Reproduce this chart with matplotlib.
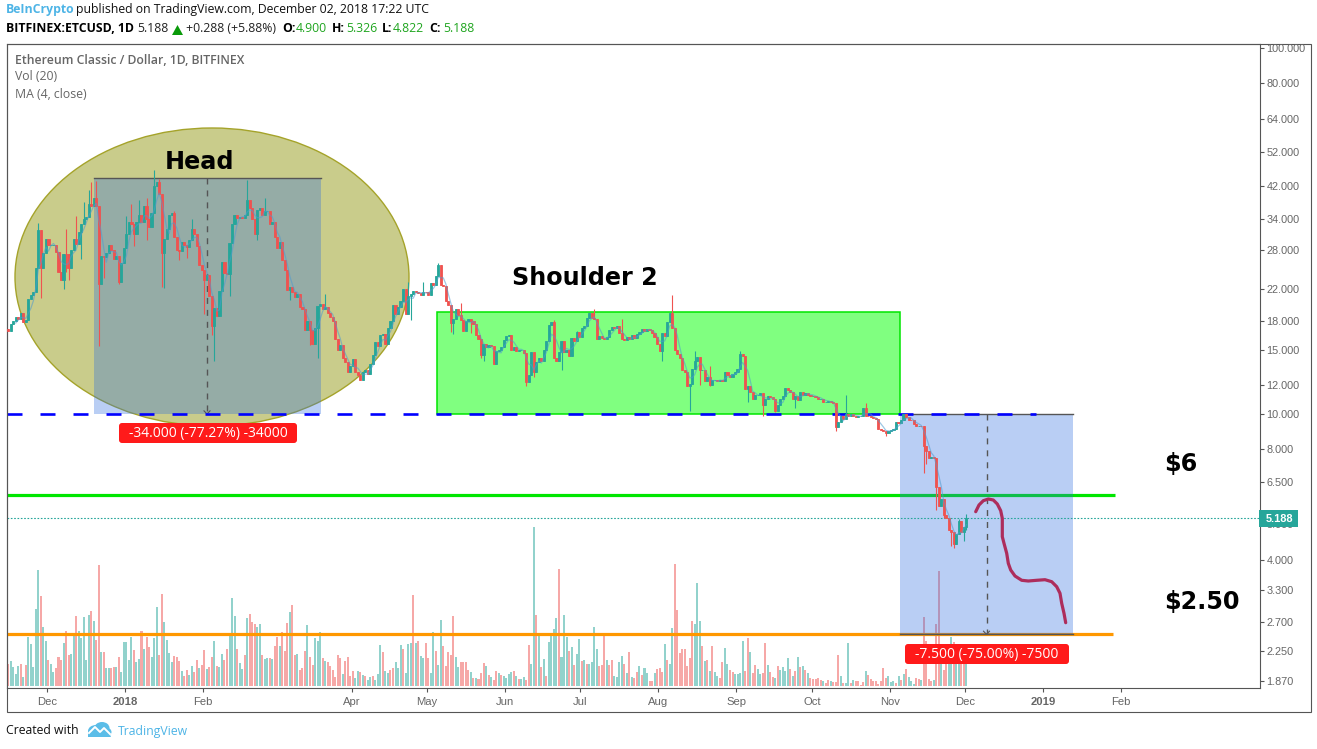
import numpy as np
import pandas as pd
import matplotlib
matplotlib.use("Agg")
import matplotlib.pyplot as plt
from matplotlib.patches import Ellipse, Rectangle, FancyBboxPatch, Polygon
from matplotlib.transforms import Affine2D
from matplotlib.ticker import NullLocator, FixedLocator, FixedFormatter

plt.rcParams["lines.scale_dashes"] = False

# ---------- daily closes by month ----------
closes_nov17 = [16.9,17.6,18.0,18.4,18.2,18.9,17.8,18.1,20.6,21.2,21.6,25.0,31.8,25.0,27.5]
closes_dec17 = [30,28.9,29,29,27.7,24.5,23.3,27.4,27.3,25,28,30,29.2,31.5,33,34,34.5,37.5,37,39,37,22.6,27,26.8,27.5,29,28,26.5,27,22.9,25.8]
closes_jan18 = [28.5,31,33.5,33,31,33.5,35,33.5,37,34,32.4,35.5,42,43,40,27.5,30,32,35,35.5,30.5,28,27.8,29.5,29,28.6,29.8,32,31,28.7,25.5]
closes_feb18 = [24.8,23.2,24,21,17.4,19.5,18.5,21.7,26,24.3,24.2,29.3,33,35,34.3,34.6,34.4,35,38.4,36.6,34,31,36,36.5,35,35.8,35.9,33]
closes_mar18 = [33.5,30.4,28.5,29.5,26.3,24.8,21.8,22.2,21.5,20.9,21.3,19.6,19.3,17,18,17,15.5,17.2,19.7,20,19.3,19.6,18.9,18.4,18,16,15,15.4,14.2,13.9,13]
closes_apr18 = [13.5,14.1,13,12.8,12.4,13,13.2,12.9,13.7,14.5,15.7,15.3,16.4,16.5,15.5,17.2,18,19.8,18.8,19.6,20.3,22,18.8,21,21.3,21.7,21.5,21.4,21.2,21.6]
closes_may18 = [21.5,21.2,22.8,22.5,23.8,25.5,22.5,22.4,20.3,19.9,17.7,18.2,19.3,18.6,18.1,16.9,18,18.2,17.9,17.6,16.4,16,14.5,15.5,15.2,15.4,15.3,13.7,14.9,15,15.2]
closes_jun18 = [15.9,16.3,16.4,15,15.2,14.9,15,15,14.7,12.2,12.8,14.8,13,13.9,14.2,14,15,15.8,17.5,17.8,14.2,14,14.8,15.8,14.8,15,14.4,16.1,15.8,16.7]
closes_jul18 = [16.2,17.2,17.4,18.3,18.9,18.3,18.2,16,16.3,16.1,16,16.2,17,17.3,17.2,17.4,16.6,16,15.9,16.2,16,16.4,16.1,16.5,16.8,17.1,16.9,17.1,17,16.6,16.2]
closes_aug18 = [15.5,14.9,16.6,16.3,17.8,18.9,17.2,15,14.6,14.2,13.2,13,11.9,12.1,13.3,14,14.3,13.2,13.2,12.3,12.6,12,12.4,12.4,12.3,12.4,12.3,13,12.8,12.6,12.9]
closes_sep18 = [13,13.3,14.6,14.4,11.7,11.9,11.5,11,11.3,11.3,11.4,10.6,11,11.2,11.1,11,10.2,10.6,11,11.2,11.8,11.6,11.5,11,11.2,10.9,11.5,11.3,11.4,11.3]
closes_oct18 = [11.2,11.2,11.1,11,11,10.8,10.8,10.85,10.8,10.75,9.2,9.5,9.9,9.7,10,9.9,10,9.9,9.8,9.85,9.9,10.4,9.9,9.85,9.8,9.75,9.7,9.1,9.05,9.0,8.9]
closes_nov18 = [9,9.05,9.1,9.5,9.45,9.6,10,9.8,9.65,9.6,9.4,9.3,9.3,9.25,8.2,7.9,7.6,7.65,7.6,6.3,5.6,5.85,5.3,5.2,4.82,4.75,4.4,4.7,5.1,4.75]
closes_dec18 = [4.9,5.188]

# ---------- notable wicks: candle number and price ----------
high_idx = [12,23,27,30,32,33,35,47,49,52,55,58,60,66,73,95,102,126,159,165,171,180,217,226,233,244,264,273,279,291,333,341,378,381]
high_val = [33.2,32,34.8,37.9,41,43,43.3,34.8,37.5,38.5,39,46.5,43.8,35.8,34,43.6,39,21.3,23,22.9,25.9,20.1,18.1,16.9,19.3,18.2,21.2,14.9,13.5,14.9,11.3,10.7,5.15,5.326]
low_idx = [13,22,23,24,29,36,38,44,50,55,61,62,68,71,78,81,82,88,99,112,120,123,139,160,176,177,184,188,189,206,209,220,260,271,275,279,294,300,305,313,329,349,364,365,369,372,375,376,380,381]
low_val = [20.8,21.9,24.5,23.2,26.5,15.3,23.6,22.6,28.7,29.9,22.3,22.1,26.3,26.7,18.8,16.4,14,21,29.9,20.5,15.4,14.2,13.1,18.1,16.8,16.5,16.6,14.2,14,11.9,12.6,13.2,14,10.2,12,11.9,10.8,9.85,10.1,10.4,9,8.7,6.9,7.3,5.45,5.2,4.35,4.3,4.5,4.822]

# ---------- volume (positive = up day, negative = down day) ----------
volume_a = [-22,25,19,12,20,-22,9,-21,49,42,19,77,116,-90,59,45,-26,22,14,-18,-29,-26,43,-55,-31,32,51,-70,55,48,69,26,71,-75,65,-46,-121,34,-34,18,18,-18,-19,19,-29,14,44,44,26,49,-36,24,27,-55,37,-49,-39,29,48,79,-31,-92,64,46,33,24,-30,-29,-25,15,-10,-16,11,20,-14,-26,18,-21,-36,17,-19,-29,45,-20,19,32,-26,-37,52,88,70,-37,23,17,-31,68,-72,-64,-62,59,62,-31,27,28,-28,27,-40,-49,40,-54,-35,-63,74,-81,-31,32,-16,-18,-35,61,-29,-21,48,45,54,-28,25,-24,-20]
volume_b = [-16,-9,-31,-28,12,-25,-29,-10,-15,8,15,-14,11,-10,6,9,-10,6,12,41,-34,15,13,-16,-18,24,18,41,-37,13,42,43,-91,43,-45,30,28,-43,-28,13,54,-35,21,66,-40,-20,-34,-31,-70,29,19,-24,-24,-24,-16,14,-8,8,-7,-13,-23,20,-11,9,-6,-15,13,-11,10,8,12,14,-15,10,-7,7,9,-6,-41,22,159,-71,51,-19,27,-10,44,51,57,68,-117,29,71,49,-35,39,-21,32,47,-25,26,-22,22,24,59,37,-20,-21,-52,26,-21,-26,10,9,24,30,-22,13,-34,9,-8,-14,20,-11,18,13,-5,-5,13,-17,-18]
volume_c = [-14,42,-26,22,58,-122,-76,-33,-37,-37,-20,-28,-65,62,103,65,-40,25,-26,15,-40,14,10,-8,-24,38,22,-16,-14,12,12,13,45,-15,-48,34,-13,-21,17,12,-13,-43,21,-14,-9,8,-20,16,19,15,28,-17,10,-15,29,-19,20,-16,13,-8,-7,-7,-8,-6,5,-3,-6,5,-4,-4,-31,10,-3,3,43,-3,6,-5,-5,-1,-4,15,-11,-7,-5,-5,-2,-5,-18,-8,10,4,5,-3,10,-6,12,-17,9,5,2,-8,-7,6,-69,-45,-7,-5,6,-62,-115,22,-16,-22,32,49,-44,26,36,-36,-33,36]

# ---------- axis labels ----------
price_ticks = [100,80,64,52,42,34,28,22,18,15,12,10,8,6.5,5,4,3.3,2.7,2.25,1.87]
time_labels = ["Dec","2018","Feb","Apr","May","Jun","Jul","Aug","Sep","Oct","Nov","Dec","2019","Feb"]
time_dates = ["2017-12-01","2018-01-01","2018-02-01","2018-04-01","2018-05-01","2018-06-01","2018-07-01","2018-08-01","2018-09-01","2018-10-01","2018-11-01","2018-12-01","2019-01-01","2019-02-01"]
first_day = "2017-11-16"

# freehand path of the drawing, in picture pixels
sketch_x = [975.7,979,983.3,988.3,993.3,997.3,1000.7,1002.3,1002.3,1002.3,1004,1006.7,1008.3,1010.7,1015,1021.7,1028.3,1036.7,1045,1051.7,1056.7,1060,1061.7,1064,1065.7]
sketch_y = [511.7,505,500.7,499,500,504,510.7,518.3,528.3,536.7,543.3,553.3,563.3,570,576,580.3,581,580.3,579.7,581.7,586.7,593.3,603.3,613.3,622.7]

closes = np.array(closes_nov17+closes_dec17+closes_jan18+closes_feb18+closes_mar18+closes_apr18+closes_may18+closes_jun18+closes_jul18+closes_aug18+closes_sep18+closes_oct18+closes_nov18+closes_dec18, dtype=float)
opens = np.r_[closes[0]*1.01, closes[:-1]]
highs = np.maximum(opens, closes)
lows = np.minimum(opens, closes)
highs[high_idx] = np.maximum(highs[high_idx], high_val)
lows[low_idx] = np.minimum(lows[low_idx], low_val)
n = len(closes)
idx = np.arange(n)
ma4 = pd.Series(closes).rolling(4).mean().values
volumes = np.array(volume_a+volume_b+volume_c, dtype=float)

GREEN, RED = "#26a69a", "#ef5350"
GREY = "#666666"
FRAME = "#555555"
BLUE_TXT = "#4db4e6"

W, H = 1317, 749
fig = plt.figure(figsize=(W/100, H/100), dpi=100, facecolor="white")
px = Affine2D().scale(1, -1).translate(0, H)
SX0, SDX = 8.2, 2.515
def ix(p):
    return (p - SX0) / SDX

L, R, T, B = 6.5, 1259.5, 43.5, 687.5
rect = [L/W, (H-B)/H, (R-L)/W, (B-T)/H]

# volume pane (unit: picture heights above the base)
av = fig.add_axes(rect, zorder=1, facecolor="white")
av.bar(np.arange(len(volumes)), np.abs(volumes), width=0.8, linewidth=0,
       color=[GREEN if v > 0 else RED for v in volumes], alpha=0.5)
av.set_xlim(ix(L), ix(R))
av.set_ylim(-1.5, 642.5)
av.axis("off")

ax = fig.add_axes(rect, zorder=2)
ax.patch.set_alpha(0)
ax.set_yscale("log")
YLIM = (10**(1+(414-B)/366), 10**(1+(414-T)/366))
ax.set_xlim(ix(L), ix(R))
ax.set_ylim(*YLIM)

# drawings under the candles
ax.add_patch(Ellipse((212, 277), 394, 298, transform=px, fc="#c9cc8b", ec="#a5a32a", lw=1.0, zorder=1))
ax.plot([ix(7), ix(1115)], [6, 6], color="#00e600", lw=2.3, zorder=1.5, solid_capstyle="butt")
ax.plot([ix(7), ix(1113)], [2.5, 2.5], color="#ff9800", lw=2.3, zorder=1.5, solid_capstyle="butt")
BLUE = "#2c6de0"
ax.add_patch(Rectangle((ix(93.5), 10), ix(320.5)-ix(93.5), 34, fc=BLUE, alpha=0.33, lw=0, zorder=2))
ax.add_patch(Rectangle((ix(900), 2.5), ix(1073)-ix(900), 7.5, fc=BLUE, alpha=0.33, lw=0, zorder=2))
ax.add_patch(Rectangle((ix(436.5), 10), ix(899.5)-ix(436.5), 9, fc="#80ff80", ec="#00e600", lw=1.1, zorder=2.1))
for a, b, hi, lo in [(93.5, 320.5, 44, None), (900, 1073, 10, 2.5)]:
    ax.plot([ix(a), ix(b)], [hi, hi], color=FRAME, lw=1, zorder=2.2)
    if lo:
        ax.plot([ix(a), ix(b)], [lo, lo], color=FRAME, lw=1, zorder=2.2)
for xm, hi, lo in [(207, 44, 10), (986.5, 10, 2.5)]:
    ax.plot([ix(xm), ix(xm)], [hi, lo], color=FRAME, lw=1, zorder=2.3, dashes=(4.3, 4.3))
    ax.plot([ix(xm-3), ix(xm), ix(xm+3)], [lo*1.02, lo, lo*1.02], color=FRAME, lw=0.8, zorder=2.3)
ax.plot([ix(7), ix(1036)], [10, 10], color="#0000ff", lw=1.9, zorder=2.4,
        dashes=(10.8, 12.96), dash_capstyle="butt")
ax.plot([ix(L), ix(R)], [5.188, 5.188], color=GREEN, lw=0.8, dashes=(1.2, 1.2), zorder=2.5)

# candles
col = np.where(closes >= opens, GREEN, RED)
ax.vlines(idx, lows, highs, colors=col, lw=0.8, zorder=3)
ax.bar(idx, np.abs(closes-opens), bottom=np.minimum(opens, closes), width=0.85,
       color=col, edgecolor=col, linewidth=0.6, zorder=3.1)
ax.plot(idx, ma4, color="#4f9ad0", lw=0.9, alpha=0.55, zorder=3.2)
ax.plot(sketch_x, sketch_y, transform=px, color="#ad2d5c", lw=2.3, zorder=4,
        solid_capstyle="round", solid_joinstyle="round")
ax.set_xlim(ix(L), ix(R))
ax.set_ylim(*YLIM)

# axes furniture
ax.yaxis.tick_right()
ax.yaxis.set_minor_locator(NullLocator())
ax.yaxis.set_major_locator(FixedLocator(price_ticks))
ax.yaxis.set_major_formatter(FixedFormatter([f"{p:.3f}" for p in price_ticks]))
ax.tick_params(axis="y", which="major", length=3, width=0.8, color=FRAME, labelcolor=GREY,
               labelsize=7.8, pad=2)
tpos = [(pd.Timestamp(d)-pd.Timestamp(first_day)).days + 0.55 for d in time_dates]
ax.set_xticks(tpos)
ax.set_xticklabels(time_labels)
ax.tick_params(axis="x", length=3, width=0.8, color=FRAME, labelcolor=GREY, labelsize=8.1, pad=3.5)
for lab in ax.get_xticklabels() + ax.get_yticklabels():
    lab.set_fontfamily("Liberation Sans")
for lab in ax.get_xticklabels():
    if lab.get_text() in ("2018", "2019"):
        lab.set_fontweight("bold")
for s in ax.spines.values():
    s.set_color(FRAME)
    s.set_linewidth(0.8)

fig.add_artist(Rectangle((6.5, 43.5), 1304, 668.5, transform=px, fill=False, ec=FRAME, lw=0.8, zorder=0.5))

def txt(x, y, s, **kw):
    kw.setdefault("va", "center")
    kw.setdefault("ha", "left")
    kw.setdefault("family", "Open Sans")
    kw.setdefault("zorder", 12)
    return fig.text(x, y, s, transform=px, **kw)

# header
HS = 8.8
txt(6, 10, "BeInCrypto", color=BLUE_TXT, fontsize=HS, fontweight="bold")
txt(76, 10, "published on TradingView.com, December 02, 2018 17:22 UTC", color="#111111", fontsize=HS)
txt(6, 29, "BITFINEX:ETCUSD, 1D", color="black", fontsize=HS, fontweight="bold")
txt(137, 29, "5.188", color="#222222", fontsize=HS)
fig.add_artist(Polygon([(172, 35), (183, 35), (177.5, 25)], transform=px, fc="#0a9a0a", lw=0, zorder=12))
txt(186, 29, "+0.288 (+5.88%)", color="#222222", fontsize=HS)
for x, s in [(282, "O:"), (332, "H:"), (382, "L:"), (429, "C:")]:
    txt(x, 29, s, color="black", fontsize=HS, fontweight="bold")
for x, s in [(296, "4.900"), (346, "5.326"), (392.5, "4.822"), (443, "5.188")]:
    txt(x, 29, s, color="#1fa51f", fontsize=HS)

# legend
txt(15, 60, "Ethereum Classic / Dollar, 1D, BITFINEX", color=GREY, fontsize=8.8, fontweight="semibold")
txt(15, 77, "Vol (20)", color=GREY, fontsize=8.8)
txt(15, 94, "MA (4, close)", color=GREY, fontsize=8.8)

# large annotations
for x, y, s in [(165, 162, "Head"), (512, 278, "Shoulder 2"), (1164, 464, "$6"), (1164, 602, "$2.50")]:
    txt(x, y, s.replace("$", r"\$"), color="black", fontsize=17.2, fontweight="bold", family="DejaVu Sans")

# measure labels
for x0, x1, y0, y1, s in [(119, 297, 423, 443, "-34.000 (-77.27%) -34000"),
                          (905, 1069, 644, 664, "-7.500 (-75.00%) -7500")]:
    fig.add_artist(FancyBboxPatch((x0+2, y0+2), x1-x0-4, y1-y0-4, boxstyle="round,pad=2,rounding_size=3",
                                  transform=px, fc="#ff1a1a", lw=0, zorder=11))
    txt((x0+x1)/2, (y0+y1)/2+0.5, s, color="white", fontsize=10.0, ha="center", family="Open Sans")

# last price label
fig.add_artist(Rectangle((1259, 510), 39, 17, transform=px, fc=GREEN, lw=0, zorder=11))
txt(1265.5, 518.5, "5.188", color="white", fontsize=7.9, fontweight="bold", family="Liberation Sans")

# footer
txt(6, 731, "Created with", color="#111111", fontsize=HS)
txt(118, 731, "TradingView", color=BLUE_TXT, fontsize=HS)
for c, w, h in [((96, 731), 16, 12), ((102, 728), 15, 12), ((106, 732), 11, 9)]:
    fig.add_artist(Ellipse(c, w, h, transform=px, fc="#5bbde8", lw=0, zorder=11))
fig.add_artist(Polygon([(88, 737), (111, 737), (108, 730), (88, 731)], transform=px, fc="#5bbde8", lw=0, zorder=11))
fig.add_artist(plt.Line2D([89, 95, 100, 104, 110], [733, 727, 732, 728, 734], transform=px, color="white", lw=1.4, zorder=12))

fig.savefig("out.png", dpi=100, facecolor="white")
